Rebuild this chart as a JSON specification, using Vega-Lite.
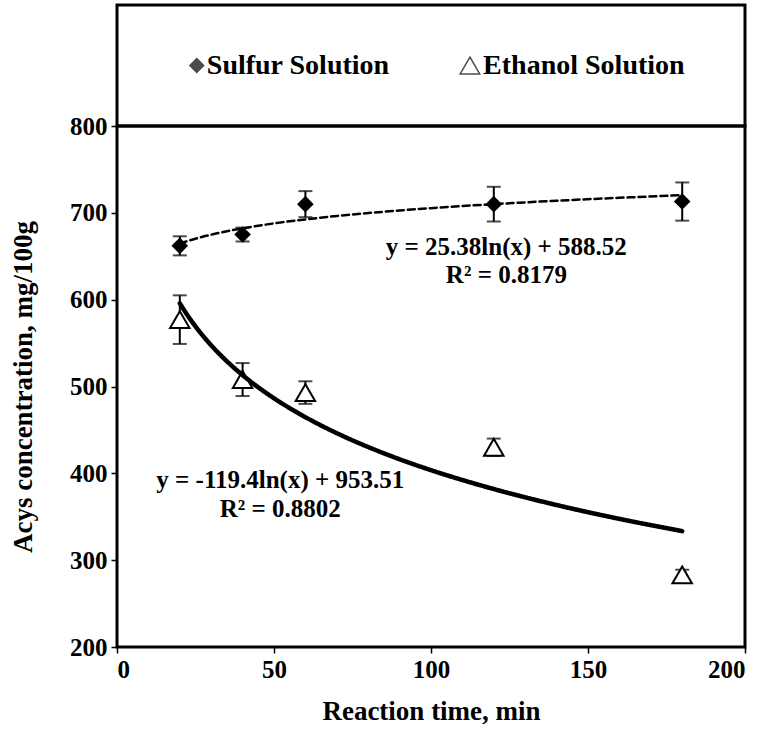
{
  "$schema": "https://vega.github.io/schema/vega-lite/v6.json",
  "background": "white",
  "padding": {"left": 8, "top": 3, "right": 20, "bottom": 5},
  "spacing": 0,
  "bounds": "flush",
  "config": {
    "font": "Liberation Serif",
    "view": {"stroke": "black", "strokeWidth": 3},
    "axis": {"grid": false, "domain": false, "tickColor": "black", "tickWidth": 1.5, "tickSize": 6, "labelFont": "Liberation Serif", "labelFontWeight": "bold", "labelFontSize": 25, "labelColor": "black", "titleFont": "Liberation Serif", "titleFontWeight": "bold", "titleFontSize": 27, "titleColor": "black"}
  },
  "datasets": {
    "legend": [
      {"series": "Sulfur Solution", "lx": 0.127, "tx": 0.143},
      {"series": "Ethanol Solution", "lx": 0.562, "tx": 0.583}
    ],
    "points": [
      {"series": "Sulfur Solution", "time": 20, "conc": 662, "err": 11},
      {"series": "Sulfur Solution", "time": 40, "conc": 675, "err": 8},
      {"series": "Sulfur Solution", "time": 60, "conc": 710, "err": 15},
      {"series": "Sulfur Solution", "time": 120, "conc": 710, "err": 20},
      {"series": "Sulfur Solution", "time": 180, "conc": 713, "err": 22},
      {"series": "Ethanol Solution", "time": 20, "conc": 577, "err": 28},
      {"series": "Ethanol Solution", "time": 40, "conc": 508, "err": 19},
      {"series": "Ethanol Solution", "time": 60, "conc": 493, "err": 13},
      {"series": "Ethanol Solution", "time": 120, "conc": 430, "err": 10},
      {"series": "Ethanol Solution", "time": 180, "conc": 283, "err": 6}
    ],
    "trend": [
      {"series": "Sulfur Solution", "time": 20, "fit": 664.55},
      {"series": "Sulfur Solution", "time": 22, "fit": 666.97},
      {"series": "Sulfur Solution", "time": 25, "fit": 670.21},
      {"series": "Sulfur Solution", "time": 30, "fit": 674.84},
      {"series": "Sulfur Solution", "time": 35, "fit": 678.75},
      {"series": "Sulfur Solution", "time": 40, "fit": 682.14},
      {"series": "Sulfur Solution", "time": 50, "fit": 687.81},
      {"series": "Sulfur Solution", "time": 60, "fit": 692.43},
      {"series": "Sulfur Solution", "time": 70, "fit": 696.35},
      {"series": "Sulfur Solution", "time": 80, "fit": 699.74},
      {"series": "Sulfur Solution", "time": 90, "fit": 702.72},
      {"series": "Sulfur Solution", "time": 100, "fit": 705.40},
      {"series": "Sulfur Solution", "time": 120, "fit": 710.03},
      {"series": "Sulfur Solution", "time": 140, "fit": 713.94},
      {"series": "Sulfur Solution", "time": 160, "fit": 717.33},
      {"series": "Sulfur Solution", "time": 180, "fit": 720.32},
      {"series": "Ethanol Solution", "time": 20, "fit": 595.82},
      {"series": "Ethanol Solution", "time": 22, "fit": 584.44},
      {"series": "Ethanol Solution", "time": 25, "fit": 569.17},
      {"series": "Ethanol Solution", "time": 30, "fit": 547.41},
      {"series": "Ethanol Solution", "time": 35, "fit": 529.01},
      {"series": "Ethanol Solution", "time": 40, "fit": 513.06},
      {"series": "Ethanol Solution", "time": 50, "fit": 486.42},
      {"series": "Ethanol Solution", "time": 60, "fit": 464.65},
      {"series": "Ethanol Solution", "time": 70, "fit": 446.24},
      {"series": "Ethanol Solution", "time": 80, "fit": 430.30},
      {"series": "Ethanol Solution", "time": 90, "fit": 416.23},
      {"series": "Ethanol Solution", "time": 100, "fit": 403.65},
      {"series": "Ethanol Solution", "time": 120, "fit": 381.88},
      {"series": "Ethanol Solution", "time": 140, "fit": 363.48},
      {"series": "Ethanol Solution", "time": 160, "fit": 347.53},
      {"series": "Ethanol Solution", "time": 180, "fit": 333.47}
    ],
    "notes": [
      {"time": 124, "conc": 661, "label": "y = 25.38ln(x) + 588.52"},
      {"time": 124, "conc": 628, "label": "R² = 0.8179"},
      {"time": 52, "conc": 392, "label": "y = -119.4ln(x) + 953.51"},
      {"time": 52, "conc": 359, "label": "R² = 0.8802"}
    ]
  },
  "vconcat": [
    {
      "width": 628,
      "height": 121,
      "data": {"name": "legend"},
      "layer": [
        {
          "mark": {"type": "point", "filled": true, "strokeWidth": 1.5},
          "encoding": {
            "x": {"field": "lx", "type": "quantitative", "scale": {"domain": [0, 1]}, "axis": null},
            "y": {"datum": 0.5, "type": "quantitative", "scale": {"domain": [0, 1]}, "axis": null},
            "shape": {"field": "series", "type": "nominal", "scale": {"domain": ["Sulfur Solution", "Ethanol Solution"], "range": ["diamond", "triangle-up"]}, "legend": null},
            "fill": {"field": "series", "type": "nominal", "scale": {"domain": ["Sulfur Solution", "Ethanol Solution"], "range": ["black", "white"]}, "legend": null},
            "stroke": {"value": "black"},
            "size": {"field": "series", "type": "nominal", "scale": {"domain": ["Sulfur Solution", "Ethanol Solution"], "range": [190, 380]}, "legend": null}
          }
        },
        {
          "mark": {"type": "text", "align": "left", "baseline": "middle", "font": "Liberation Serif", "fontWeight": "bold", "fontSize": 28, "color": "black"},
          "encoding": {
            "x": {"field": "tx", "type": "quantitative", "scale": {"domain": [0, 1]}, "axis": null},
            "y": {"datum": 0.5, "type": "quantitative", "scale": {"domain": [0, 1]}, "axis": null},
            "text": {"field": "series"}
          }
        }
      ]
    },
    {
      "width": 628,
      "height": 521,
      "layer": [
        {
          "data": {"name": "points"},
          "mark": {"type": "errorbar", "ticks": {"size": 14, "thickness": 2, "color": "black"}, "rule": {"strokeWidth": 2, "color": "black"}},
          "encoding": {
            "x": {"field": "time", "type": "quantitative", "scale": {"domain": [0, 200]}, "title": "Reaction time, min"},
            "y": {"field": "conc", "type": "quantitative", "scale": {"domain": [200, 800], "zero": false}, "title": "Acys concentration, mg/100g"},
            "yError": {"field": "err"}
          }
        },
        {
          "data": {"name": "points"},
          "mark": {"type": "point", "filled": true, "strokeWidth": 2, "opacity": 1},
          "encoding": {
            "x": {"field": "time", "type": "quantitative", "scale": {"domain": [0, 200]}, "axis": {"values": [0, 50, 100, 150, 200], "title": "Reaction time, min", "labelPadding": 4, "titlePadding": 16}},
            "y": {"field": "conc", "type": "quantitative", "scale": {"domain": [200, 800], "zero": false}, "axis": {"values": [200, 300, 400, 500, 600, 700, 800], "title": "Acys concentration, mg/100g", "labelPadding": 4, "titlePadding": 32}},
            "shape": {"field": "series", "type": "nominal", "scale": {"domain": ["Sulfur Solution", "Ethanol Solution"], "range": ["diamond", "triangle-up"]}, "legend": null},
            "fill": {"field": "series", "type": "nominal", "scale": {"domain": ["Sulfur Solution", "Ethanol Solution"], "range": ["black", "white"]}, "legend": null},
            "stroke": {"value": "black"},
            "size": {"field": "series", "type": "nominal", "scale": {"domain": ["Sulfur Solution", "Ethanol Solution"], "range": [480, 1000]}, "legend": null}
          }
        },
        {
          "data": {"name": "trend"},
          "mark": {"type": "line", "color": "black", "interpolate": "monotone", "strokeCap": "round"},
          "encoding": {
            "x": {"field": "time", "type": "quantitative"},
            "y": {"field": "fit", "type": "quantitative"},
            "detail": {"field": "series"},
            "strokeDash": {"field": "series", "type": "nominal", "scale": {"domain": ["Sulfur Solution", "Ethanol Solution"], "range": [[7, 4], [1, 0]]}, "legend": null},
            "strokeWidth": {"field": "series", "type": "nominal", "scale": {"domain": ["Sulfur Solution", "Ethanol Solution"], "range": [2.5, 4.5]}, "legend": null}
          }
        },
        {
          "data": {"name": "notes"},
          "mark": {"type": "text", "font": "Liberation Serif", "fontWeight": "bold", "fontSize": 25, "color": "black", "align": "center", "baseline": "middle"},
          "encoding": {
            "x": {"field": "time", "type": "quantitative"},
            "y": {"field": "conc", "type": "quantitative"},
            "text": {"field": "label"}
          }
        }
      ]
    }
  ]
}
